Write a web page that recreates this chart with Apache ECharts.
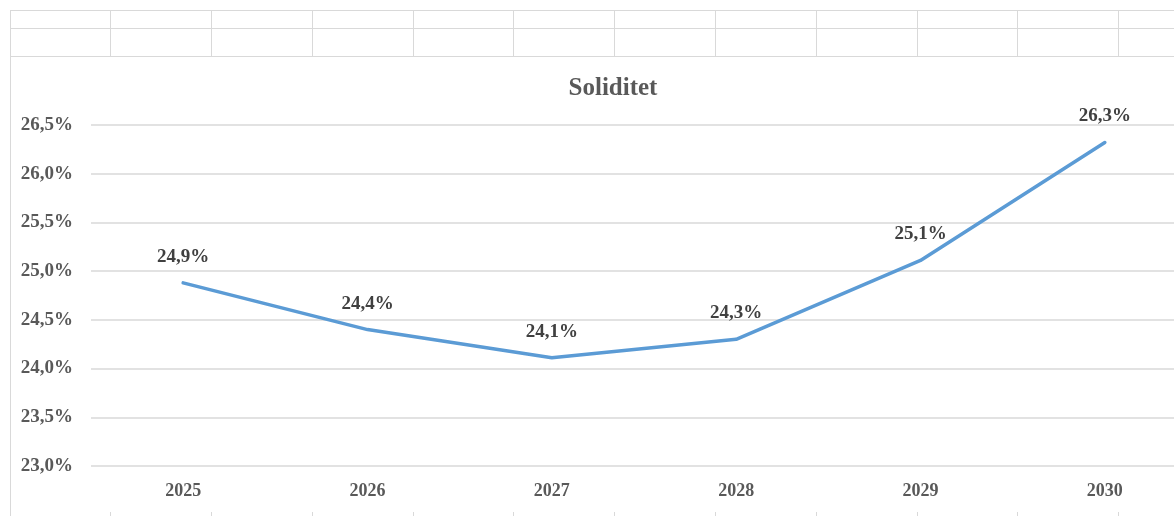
<!DOCTYPE html>
<html>
<head>
<meta charset="utf-8">
<script src="https://cdn.jsdelivr.net/npm/echarts@6/dist/echarts.min.js"></script>
<style>
  html, body { margin: 0; padding: 0; width: 1174px; height: 516px; overflow: hidden; background: #fff; }
  .hl { position: absolute; height: 0; border-top: 1.5px solid #d9d9d9; }
  .vl { position: absolute; width: 0; border-left: 1.5px solid #d9d9d9; }
  #chart { position: absolute; left: 11px; top: 58px; width: 1204px; height: 454px; }
</style>
</head>
<body>
<div id="sheet"></div>
<div id="chart"></div>
<script>
const categories = ['2025', '2026', '2027', '2028', '2029', '2030'];
const soliditet = [24.88, 24.40, 24.11, 24.30, 25.11, 26.32];
const yTicks = { min: 23.0, max: 26.5, interval: 0.5 };

// spreadsheet cell grid (decoration behind the chart)
const sheet = document.getElementById('sheet');
function hl(y, x1, x2) { const d = document.createElement('div'); d.className = 'hl'; d.style.left = x1 + 'px'; d.style.top = y + 'px'; d.style.width = (x2 - x1) + 'px'; sheet.appendChild(d); }
function vl(x, y1, y2) { const d = document.createElement('div'); d.className = 'vl'; d.style.left = x + 'px'; d.style.top = y1 + 'px'; d.style.height = (y2 - y1) + 'px'; sheet.appendChild(d); }
hl(10, 10, 1174); hl(28, 10, 1174); hl(56, 10, 1174); hl(511, 10, 1174);
const cols = [10, 110, 211, 312, 413, 513, 614, 715, 816, 917, 1017, 1118];
cols.forEach(x => { vl(x, 10, 57); vl(x, 511, 516); });
vl(10, 56, 512);

const chart = echarts.init(document.getElementById('chart'), null, { renderer: 'canvas' });
const fontFamily = '"Liberation Serif", "DejaVu Serif", serif';
const pct = v => v.toFixed(1).replace('.', ',') + '%';
chart.setOption({
  animation: false,
  backgroundColor: '#ffffff',
  title: {
    text: 'Soliditet',
    left: 'center',
    top: 13,
    textStyle: { fontFamily, fontSize: 25, fontWeight: 'bold', color: '#595959' }
  },
  grid: { left: 80, right: 18, top: 67, bottom: 46, containLabel: false },
  xAxis: {
    type: 'category',
    data: categories,
    boundaryGap: true,
    axisLine: { show: false },
    axisTick: { show: false },
    axisLabel: { fontFamily, fontSize: 18, fontWeight: 'bold', color: '#595959', margin: 16 }
  },
  yAxis: {
    type: 'value',
    min: yTicks.min,
    max: yTicks.max,
    interval: yTicks.interval,
    axisLine: { show: false },
    axisTick: { show: false },
    splitLine: { lineStyle: { color: '#d9d9d9', width: 1.5 } },
    axisLabel: {
      fontFamily, fontSize: 19, fontWeight: 'bold', color: '#595959', margin: 18,
      formatter: pct
    }
  },
  series: [{
    type: 'line',
    data: soliditet,
    showSymbol: true,
    symbol: 'circle',
    symbolSize: 1,
    itemStyle: { color: 'rgba(91,155,213,0)', borderWidth: 0 },
    lineStyle: { color: '#5b9bd5', width: 3.5, cap: 'round', join: 'round' },
    label: {
      show: true,
      position: 'top',
      distance: 16,
      fontFamily, fontSize: 19, fontWeight: 'bold', color: '#404040',
      formatter: p => pct(p.value)
    }
  }]
});
</script>
</body>
</html>
